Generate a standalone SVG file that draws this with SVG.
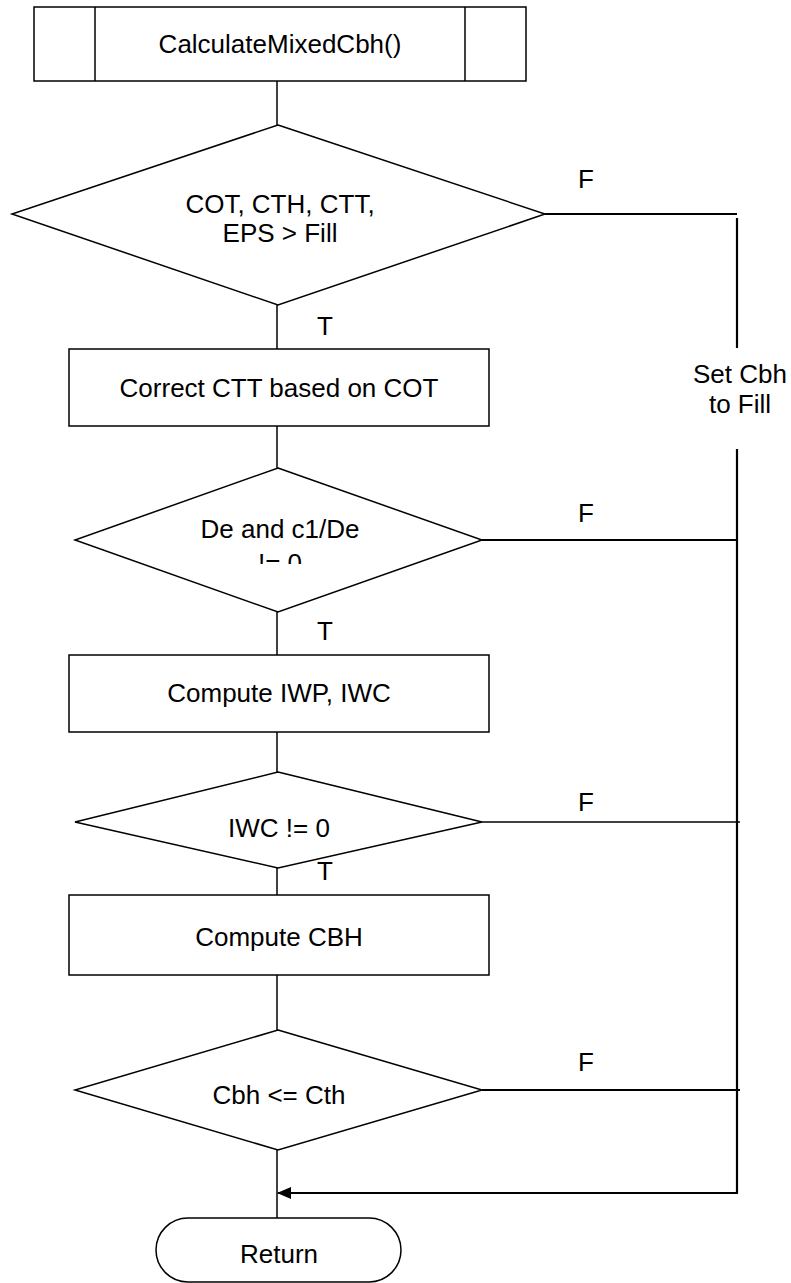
<svg xmlns="http://www.w3.org/2000/svg" width="791" height="1283" viewBox="0 0 791 1283">
<style>
.s{fill:#fff;stroke:#000;stroke-width:1.5}
.c{fill:none;stroke:#000;stroke-width:1.5}
.k{fill:none;stroke:#000;stroke-width:2.2}
text{font-family:"Liberation Sans",Arial,sans-serif;font-size:26px;fill:#000;text-anchor:middle}
</style>
<defs>
<marker id="ah" markerWidth="14" markerHeight="12" refX="13" refY="6" orient="auto" markerUnits="userSpaceOnUse">
<path d="M0,0 L14,6 L0,12 z" fill="#000"/>
</marker>
<clipPath id="clip2"><rect x="75" y="440" width="410" height="124"/></clipPath>
</defs>
<rect width="791" height="1283" fill="#fff"/>
<g id="connectors">
<line class="c" x1="277" y1="81" x2="277" y2="125"/>
<line class="c" x1="277" y1="305" x2="277" y2="349"/>
<line class="c" x1="277" y1="426" x2="277" y2="468"/>
<line class="c" x1="277" y1="612" x2="277" y2="655"/>
<line class="c" x1="277" y1="732" x2="277" y2="772"/>
<line class="c" x1="277" y1="868" x2="277" y2="895"/>
<line class="c" x1="277" y1="975" x2="277" y2="1030"/>
<line class="c" x1="277" y1="1150" x2="277" y2="1219"/>
<line class="k" x1="545" y1="214" x2="737" y2="214"/>
<line class="k" x1="482" y1="540" x2="738" y2="540"/>
<line class="c" x1="482" y1="822" x2="740" y2="822"/>
<line class="k" x1="482" y1="1090" x2="740" y2="1090"/>
<line class="k" x1="737" y1="218" x2="737" y2="348"/>
<line class="k" x1="737" y1="449" x2="737" y2="1193"/>
<line class="k" x1="738" y1="1193" x2="278" y2="1193" marker-end="url(#ah)"/>
<text x="586" y="188">F</text>
<text x="586" y="522">F</text>
<text x="586" y="811">F</text>
<text x="586" y="1071">F</text>
<text x="325" y="335">T</text>
<text x="325" y="640">T</text>
<text x="325" y="880">T</text>
<text x="740" y="383">Set Cbh</text>
<text x="740" y="413">to Fill</text>
</g>
<g id="start">
<rect class="s" x="34" y="7" width="492" height="74"/>
<line class="s" x1="95" y1="7" x2="95" y2="81"/>
<line class="s" x1="465" y1="7" x2="465" y2="81"/>
<text x="280" y="53">CalculateMixedCbh()</text>
</g>
<g id="d1">
<polygon class="s" points="278,125 545,214 278,305 12,214"/>
<text x="280" y="213">COT, CTH, CTT,</text>
<text x="280" y="242">EPS &gt; Fill</text>
</g>
<g id="b1">
<rect class="s" x="69" y="349" width="420" height="77"/>
<text x="279" y="397">Correct CTT based on COT</text>
</g>
<g id="d2">
<polygon class="s" points="278,468 482,540 278,612 75,540"/>
<g clip-path="url(#clip2)">
<text x="280" y="538">De and c1/De</text>
<text x="280" y="572">!= 0</text>
</g>
</g>
<g id="b2">
<rect class="s" x="69" y="655" width="420" height="77"/>
<text x="279" y="702">Compute IWP, IWC</text>
</g>
<g id="d3">
<polygon class="s" points="278,772 482,822 278,868 75,822"/>
<text x="279" y="837">IWC != 0</text>
</g>
<g id="b3">
<rect class="s" x="69" y="895" width="420" height="80"/>
<text x="279" y="946">Compute CBH</text>
</g>
<g id="d4">
<polygon class="s" points="278,1030 482,1090 278,1150 75,1090"/>
<text x="279" y="1104">Cbh &lt;= Cth</text>
</g>
<g id="ret">
<rect class="s" x="156" y="1218" width="245" height="64" rx="32" ry="32"/>
<text x="279" y="1263">Return</text>
</g>
</svg>
